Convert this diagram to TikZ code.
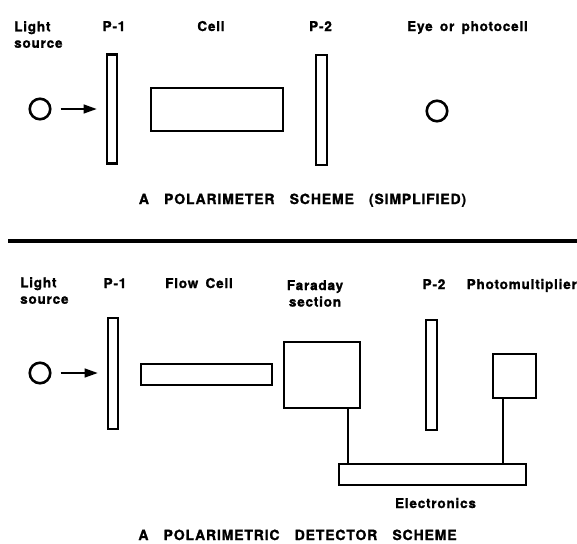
\documentclass[tikz,border=0pt]{standalone}
\usepackage{fontspec}
\newfontfamily\tagfont{TeX Gyre Heros}[LetterSpace=6,WordSpace=1.6,BoldFeatures={FakeBold=1.3}]
\usetikzlibrary{arrows.meta,positioning}
\tikzset{
  tag/.style={font=\tagfont\bfseries\fontsize{13.5}{16.5}\selectfont,inner sep=0pt,align=left},
  heading/.style={tag,font=\tagfont\bfseries\fontsize{14}{16}\selectfont},
  plate/.style={draw,line width=2.7pt,inner sep=0pt},
  lamp/.style={draw,circle,line width=2.6pt,minimum size=20.5pt,inner sep=0pt},
  beam/.style={-{Triangle[length=13pt,width=9pt]},line width=1.3pt,shorten <=9pt,shorten >=9pt},
  wire/.style={line width=1.4pt}
}
\begin{document}
\begin{tikzpicture}[x=1pt,y=-1pt]
  \useasboundingbox (0,0) rectangle (577,543);
  % simplified polarimeter
  \node[tag,anchor=north west] (src1) at (14,21) {Light\\source};
  \node[tag,anchor=base] (pa1) at (114,31) {P-1};
  \node[tag,anchor=base] (cella) at (211,31) {Cell};
  \node[tag,anchor=base] (pa2) at (320.5,31) {P-2};
  \node[tag,anchor=base] (eyel) at (467.5,31) {Eye or photocell};
  \node[lamp] (lamp1) at (40,109) {};
  \node[plate,minimum width=10pt,minimum height=109pt] (pol1) at (112,109) {};
  \node[plate,minimum width=132pt,minimum height=43pt] (cell) at (217,109.5) {};
  \node[plate,minimum width=11pt,minimum height=110pt] (pol2) at (321.5,110) {};
  \node[lamp] (eye) at (437,111) {};
  \draw[beam] (lamp1) -- (lamp1 -| pol1.west);
  \node[heading,anchor=base] (title1) at (302.5,204) {A\ \ POLARIMETER\ \ SCHEME\ \ (SIMPLIFIED)};
  \coordinate (cutl) at (8,241);
  \coordinate (cutr) at (577,241);
  \draw[line width=4pt] (cutl) -- (cutr);
  % detector
  \node[tag,anchor=north west] (src2) at (20,277) {Light\\source};
  \node[tag,anchor=base] (pb1) at (115,288) {P-1};
  \node[tag,anchor=base] (flowl) at (199,288) {Flow Cell};
  \node[tag,anchor=north,align=center] (faral) at (315,280) {Faraday\\section};
  \node[tag,anchor=base] (pb2) at (434,289) {P-2};
  \node[tag,anchor=base east] (pmtl) at (577,289) {Photomultiplier};
  \node[lamp] (lamp2) at (40,373) {};
  \node[plate,minimum width=10pt,minimum height=111pt] (pol3) at (113,373.5) {};
  \node[plate,minimum width=131pt,minimum height=21pt] (flow) at (206.5,374.5) {};
  \node[plate,minimum width=76pt,minimum height=66pt] (fara) at (322,375) {};
  \node[plate,minimum width=11pt,minimum height=110pt] (pol4) at (431.5,375) {};
  \node[plate,minimum width=43pt,minimum height=44pt] (pmt) at (514.5,376) {};
  \node[plate,minimum width=187pt,minimum height=21pt] (elec) at (432.5,474.5) {};
  \draw[beam] (lamp2) -- (lamp2 -| pol3.west);
  \draw[wire] ([xshift=26pt]fara.south) -- ([xshift=26pt]fara.south |- elec.north);
  \draw[wire] ([xshift=-11.5pt]pmt.south) -- ([xshift=-11.5pt]pmt.south |- elec.north);
  \node[tag,anchor=base] (elecl) at (435.5,508) {Electronics};
  \node[heading,anchor=base] (title2) at (297.5,540) {A\ \ POLARIMETRIC\ \ DETECTOR\ \ SCHEME};
\end{tikzpicture}
\end{document}
